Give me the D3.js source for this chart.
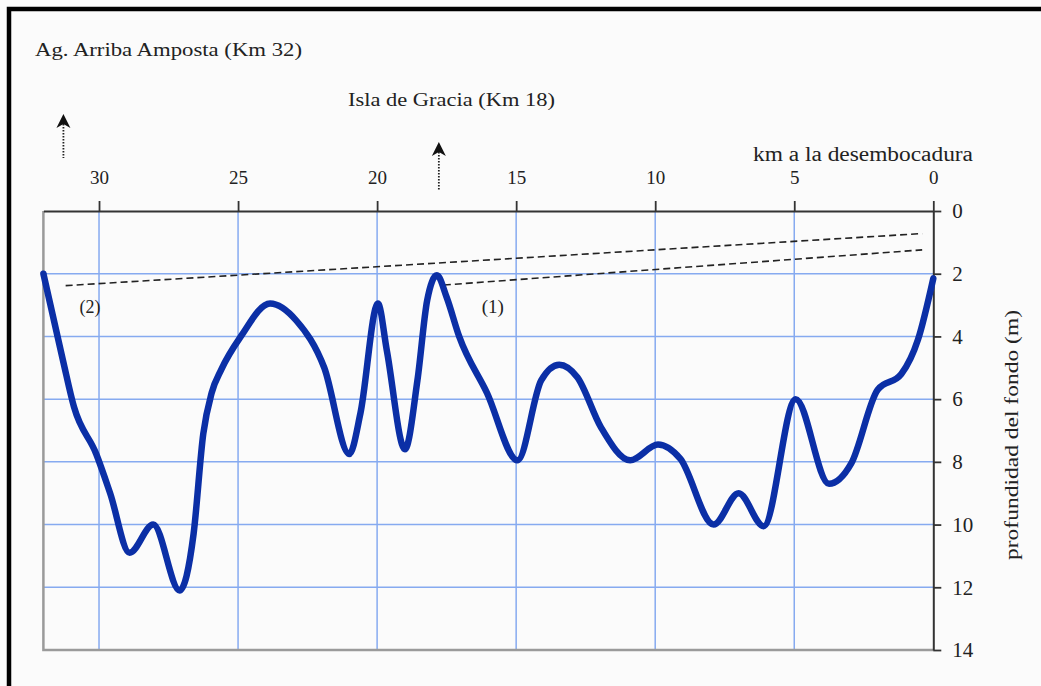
<!DOCTYPE html>
<html>
<head>
<meta charset="utf-8">
<script src="https://cdn.jsdelivr.net/npm/d3@7"></script>
<style>
  body { margin: 0; background: #fbfbfb; }
  svg { display: block; }
  text { font-family: "Liberation Serif", "Times New Roman", serif; fill: #222; }
</style>
</head>
<body>
<script>
var width = 1041,
    height = 686;

// bottom profile, km to the river mouth vs depth (m)
var profileKm    = [32, 31.3, 30.9, 30.1, 29.6, 28.9, 28.05, 27.1, 26.6, 26.25, 25.95, 25.6, 24.9, 23.85, 22.9, 21.9, 21.0, 20.6, 19.97, 19.65, 19.0, 18.55, 18.2, 17.85, 17.5, 17.05, 16.05, 14.95, 14.1, 13.45, 12.8, 11.95, 10.9, 9.9, 9.1, 7.9, 7.0, 6.1, 4.95, 3.75, 2.95, 2.0, 1.15, 0.55, 0];
var profileDepth = [2.0, 4.75, 6.25, 7.75, 9.0, 10.9, 10.0, 12.1, 10.3, 7.1, 5.8, 5.05, 4.0, 2.95, 3.5, 5.0, 7.75, 6.45, 2.95, 4.45, 7.6, 5.4, 2.85, 2.05, 2.75, 4.0, 5.8, 7.95, 5.4, 4.9, 5.3, 6.9, 7.95, 7.45, 7.9, 10.0, 9.0, 10.05, 6.0, 8.7, 8.05, 5.7, 5.2, 4.1, 2.15];

// dashed reference lines (1) and (2)
var line1Km = [17.6, 0.4], line1Depth = [2.36, 1.24];
var line2Km = [31.2, 0.4], line2Depth = [2.38, 0.72];

var xTicks = [30, 25, 20, 15, 10, 5, 0];
var yTicks = [0, 2, 4, 6, 8, 10, 12, 14];
var gridKm = [30, 25, 20, 15, 10, 5];
var gridDepth = [2, 4, 6, 8, 10, 12];

// upstream markers
var markers = [
  {km: 31.28, label: "Ag. Arriba Amposta (Km 32)"},
  {km: 17.78, label: "Isla de Gracia (Km 18)"}
];

var svg = d3.select("body").append("svg")
    .attr("width", width)
    .attr("height", height);

var x = d3.scaleLinear().domain([32, 0]).range([43.4, 933.3]);
var y = d3.scaleLinear().domain([0, 14]).range([211, 650]);

// frame (only top/left visible)
svg.append("rect")
    .attr("x", 9).attr("y", 9)
    .attr("width", 1200).attr("height", 900)
    .attr("fill", "none")
    .attr("stroke", "#000")
    .attr("stroke-width", 4.5);

// grid
svg.append("g").selectAll("line")
    .data(gridKm)
    .enter().append("line")
    .attr("x1", function(d) { return x(d); })
    .attr("x2", function(d) { return x(d); })
    .attr("y1", y(0)).attr("y2", y(14))
    .attr("stroke", "#86aaf0").attr("stroke-width", 1.5);

svg.append("g").selectAll("line")
    .data(gridDepth)
    .enter().append("line")
    .attr("x1", x(32)).attr("x2", x(0))
    .attr("y1", function(d) { return y(d); })
    .attr("y2", function(d) { return y(d); })
    .attr("stroke", "#86aaf0").attr("stroke-width", 1.5);

// grey left and bottom borders of plot
svg.append("path")
    .attr("d", "M" + x(32) + "," + y(0) + "V" + y(14) + "H" + x(0))
    .attr("fill", "none")
    .attr("stroke", "#9a9a9a")
    .attr("stroke-width", 2.5);

// top axis
var xAxis = svg.append("g")
    .attr("transform", "translate(0," + y(0) + ")")
    .call(d3.axisTop(x).tickValues(xTicks).tickSize(10).tickPadding(17).tickSizeOuter(0));
xAxis.select(".domain").attr("stroke", "#333").attr("stroke-width", 2);
xAxis.selectAll(".tick line").attr("stroke", "#333").attr("stroke-width", 1.8);
xAxis.selectAll(".tick text")
    .attr("font-family", "Liberation Serif")
    .attr("font-size", 19)
    .attr("fill", "#333");

// right axis
var yAxis = svg.append("g")
    .attr("transform", "translate(" + x(0) + ",0)")
    .call(d3.axisRight(y).tickValues(yTicks).tickSize(8).tickPadding(11).tickSizeOuter(0));
yAxis.select(".domain").attr("stroke", "#333").attr("stroke-width", 2);
yAxis.selectAll(".tick line").attr("stroke", "#333").attr("stroke-width", 1.8);
yAxis.selectAll(".tick text")
    .attr("font-family", "Liberation Serif")
    .attr("font-size", 21)
    .attr("fill", "#333");

// dashed lines
var straight = d3.line()
    .x(function(d) { return x(d[0]); })
    .y(function(d) { return y(d[1]); });

[[line1Km, line1Depth], [line2Km, line2Depth]].forEach(function(l) {
  svg.append("path")
      .datum(d3.zip(l[0], l[1]))
      .attr("d", straight)
      .attr("fill", "none")
      .attr("stroke", "#222")
      .attr("stroke-width", 1.6)
      .attr("stroke-dasharray", "7,4");
});

svg.append("text").attr("x", x(30.32)).attr("y", 313)
    .attr("text-anchor", "middle").attr("font-size", 18).text("(2)");
svg.append("text").attr("x", x(15.84)).attr("y", 313)
    .attr("text-anchor", "middle").attr("font-size", 19).text("(1)");

// profile
var curve = d3.line()
    .x(function(d) { return x(d[0]); })
    .y(function(d) { return y(d[1]); })
    .curve(d3.curveMonotoneX);

svg.append("path")
    .datum(d3.zip(profileKm, profileDepth))
    .attr("d", curve)
    .attr("fill", "none")
    .attr("stroke", "#0b2fa6")
    .attr("stroke-width", 6.5)
    .attr("stroke-linecap", "round")
    .attr("stroke-linejoin", "round");

// arrows and place names
var arrowTops = [114, 142], arrowBottoms = [158, 190];
markers.forEach(function(m, i) {
  var ax = x(m.km);
  svg.append("line")
      .attr("x1", ax).attr("x2", ax)
      .attr("y1", arrowTops[i] + 10).attr("y2", arrowBottoms[i])
      .attr("stroke", "#222").attr("stroke-width", 1.8)
      .attr("stroke-dasharray", "1.5,1.5");
  svg.append("path")
      .attr("d", "M" + ax + "," + arrowTops[i] + "l7,14l-7,-4l-7,4z")
      .attr("fill", "#111");
});

svg.append("text").attr("x", 35).attr("y", 56)
    .attr("font-size", 19).attr("textLength", 267).attr("lengthAdjust", "spacingAndGlyphs")
    .text(markers[0].label);
svg.append("text").attr("x", 348).attr("y", 106)
    .attr("font-size", 19).attr("textLength", 207).attr("lengthAdjust", "spacingAndGlyphs")
    .text(markers[1].label);
svg.append("text").attr("x", 753).attr("y", 161)
    .attr("font-size", 20).attr("textLength", 220).attr("lengthAdjust", "spacingAndGlyphs")
    .text("km a la desembocadura");

svg.append("text")
    .attr("transform", "translate(1018,435) rotate(-90)")
    .attr("text-anchor", "middle")
    .attr("font-size", 19).attr("textLength", 250).attr("lengthAdjust", "spacingAndGlyphs")
    .attr("fill", "#333")
    .text("profundidad del fondo (m)");
</script>
</body>
</html>
